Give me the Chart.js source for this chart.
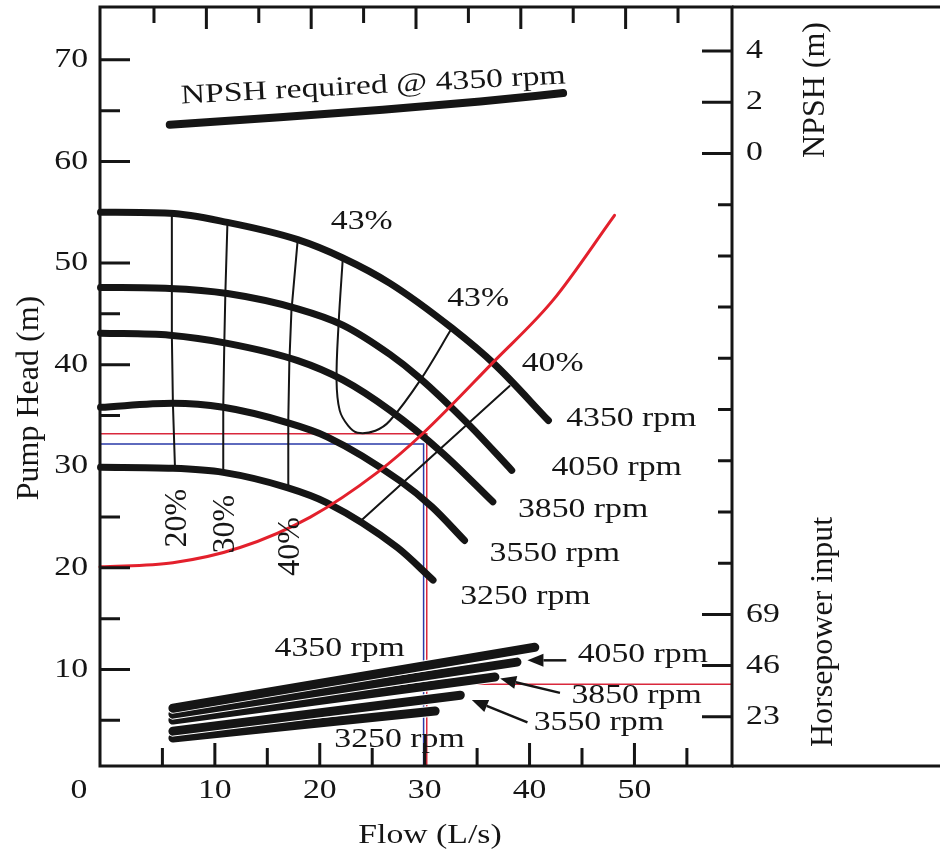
<!DOCTYPE html>
<html><head><meta charset="utf-8">
<script src="https://cdn.jsdelivr.net/npm/chart.js@4.4.0/dist/chart.umd.min.js"></script>
<style>html,body{margin:0;padding:0;background:#fff}#wrap{width:940px;height:857px}</style>
</head><body><div id="wrap"><canvas id="c" width="940" height="857"></canvas></div>
<script>
// ===== DATA =====
const RPM=['4350','4050','3850','3550','3250'];
// head curves (flow L/s, head m)
const Q_4350=[-0.9,5.7,11.2,17.9,22.2,26.7,32.6,36.7,41.8];
const H_4350=[55.0,54.9,54.0,52.3,50.5,48.0,43.6,40.0,34.5];
const Q_4050=[-0.9,5.7,11.2,17.9,22.2,26.7,29.4,34.3,38.3];
const H_4050=[47.6,47.5,47.0,45.5,43.9,41.0,38.8,34.0,29.6];
const Q_3850=[-0.9,5.7,11.2,17.9,22.2,26.7,31.7,36.5];
const H_3850=[43.1,42.9,42.1,40.4,38.5,35.5,31.3,26.5];
const Q_3550=[-0.9,6.0,10.8,16.9,20.7,27.6,30.7,33.8];
const H_3550=[35.8,36.2,35.8,34.3,32.9,28.6,26.0,22.7];
const Q_3250=[-0.9,6.0,10.8,16.9,20.7,27.4,30.8];
const H_3250=[29.9,29.8,29.4,27.9,26.4,22.0,18.8];
// efficiency contours
const E20_Q=[5.9,5.9,5.9,6.0,6.2], E20_H=[54.9,47.5,42.9,36.2,29.8];
const E30_Q=[11.2,11.0,10.9,10.8,10.8], E30_H=[54.0,47.0,42.1,35.8,29.4];
const E40_Q=[17.9,17.3,17.1,17.0,17.0], E40_H=[52.3,45.3,40.2,34.5,27.8];
const E43_Q=[22.2,21.8,21.6,21.9,22.7,23.6,25.3,26.7,29.6,32.6];
const E43_H=[50.5,44.1,38.5,35.5,34.0,33.3,33.5,34.5,38.5,43.6];
const E40R_Q=[38.1,24.0], E40R_H=[37.9,24.7];
// system curve
const SYS_Q=[-0.95,6.0,12.4,19.1,25.5,29.8,36.5,42.2,48.1];
const SYS_H=[20.1,20.5,22.0,25.0,29.4,33.2,40.2,46.3,54.7];
// NPSH required @ 4350 rpm (m)
const NPSH_Q=[5.7,16.2,26.0,35.3,43.2], NPSH_M=[1.11,1.40,1.70,2.02,2.35];
// horsepower input lines
const HP_Q=[[6.0,40.5],[6.0,38.8],[6.0,36.7],[6.0,33.4],[6.0,31.0]];
const HP_V=[[26.9,54.5],[24.2,47.8],[21.5,41.0],[16.5,32.8],[13.4,25.6]];
// operating point read-off lines
const OP_RED={q:30.2,h:33.2,hp:37.8}, OP_BLUE={q:29.9,h:32.2};
// ticks
const X_LABELS=[10,20,30,40,50], X_MINOR=[5,10,15,20,25,30,35,40,45,50,55];
const Y_LABELS=[10,20,30,40,50,60,70], Y_MINOR=[5,10,15,20,25,30,35,40,45,50,55,60,65,70];
const NPSH_TICKS=[0,2,4], HP_TICKS=[23,46,69];
const R_MINOR=[5,10,15,20,25,30,35,40,45,50,55,60,65,70], R_LONG=[5,10,15,60,65,70];

// ===== STYLE =====
const INK='#151515',RED='#e3202c',REF_RED='#d9283c',REF_BLUE='#2a3aa8';
const SERIF="'Liberation Serif','Times New Roman',serif";

const pts=(q,h)=>q.map((v,i)=>({x:v,y:h[i]}));
function ds(data,color,width,yAxis,extra){
  return Object.assign({data,borderColor:color,borderWidth:width,showLine:true,pointRadius:0,fill:false,
    tension:0,yAxisID:yAxis||'y',xAxisID:'x',borderCapStyle:'round',borderJoinStyle:'round',clip:false},extra||{});
}
const SMOOTH={cubicInterpolationMode:'monotone'};
const datasets=[];
// read-off lines (underneath)
datasets.push(ds([{x:-0.95,y:OP_RED.h},{x:OP_RED.q,y:OP_RED.h},{x:OP_RED.q,y:0.5}],REF_RED,1.5,'y',{borderCapStyle:'butt',borderJoinStyle:'miter'}));
datasets.push(ds([{x:-0.95,y:OP_BLUE.h},{x:OP_BLUE.q,y:OP_BLUE.h},{x:OP_BLUE.q,y:0.5}],REF_BLUE,1.5,'y',{borderCapStyle:'butt',borderJoinStyle:'miter'}));
datasets.push(ds([{x:OP_RED.q,y:OP_RED.hp},{x:59.3,y:OP_RED.hp}],REF_RED,1.5,'yH',{borderCapStyle:'butt'}));
// efficiency contours
[[E20_Q,E20_H],[E30_Q,E30_H],[E40_Q,E40_H],[E40R_Q,E40R_H]].forEach(([q,h])=>
  datasets.push(ds(pts(q,h),INK,2,'y')));
datasets.push(ds(pts(E43_Q,E43_H),INK,2,'y',{tension:0.35}));
// head curves
[[Q_4350,H_4350],[Q_4050,H_4050],[Q_3850,H_3850],[Q_3550,H_3550],[Q_3250,H_3250]].forEach(([q,h])=>
  datasets.push(ds(pts(q,h),INK,7,'y',SMOOTH)));
// horsepower lines, bottom first, white halo gives the thin separations
for(let i=HP_Q.length-1;i>=0;i--){
  datasets.push(ds(pts(HP_Q[i],HP_V[i]),'#fff',11,'yH'));
  datasets.push(ds(pts(HP_Q[i],HP_V[i]),INK,9,'yH'));
}
// NPSH
datasets.push(ds(pts(NPSH_Q,NPSH_M),INK,8,'yN',SMOOTH));
// system curve on top
datasets.push(ds(pts(SYS_Q,SYS_H),RED,3,'y',SMOOTH));
datasets.forEach((d,i)=>d.order=datasets.length-i);

// ===== TEXT / ANNOTATIONS =====
const LABELS=[
  {t:'NPSH required @ 4350 rpm',x:25.1,y:67.4,rot:-3},
  {t:'43%',x:24.0,y:54.0},{t:'43%',x:35.1,y:46.5},{t:'40%',x:42.2,y:40.1},
  {t:'4350 rpm',x:49.7,y:34.7},{t:'4050 rpm',x:48.3,y:29.8},{t:'3850 rpm',x:45.1,y:25.7},
  {t:'3550 rpm',x:42.4,y:21.4},{t:'3250 rpm',x:39.6,y:17.1},
  {t:'20%',x:6.4,y:24.9,rot:-90},{t:'30%',x:11.0,y:24.3,rot:-90},{t:'40%',x:17.2,y:22.1,rot:-90},
  {t:'4350 rpm',x:21.9,y:12.0},{t:'4050 rpm',x:50.8,y:11.4},{t:'3850 rpm',x:50.2,y:7.4},
  {t:'3550 rpm',x:46.6,y:4.7},{t:'3250 rpm',x:27.6,y:3.1}
];
const ARROWS=[
  {x1:43.5,y1:10.9,x2:39.8,y2:10.9},
  {x1:42.9,y1:7.7,x2:37.2,y2:9.1},
  {x1:39.8,y1:4.8,x2:34.5,y2:7.0}
];

function txt(ctx,s,px,py,o){
  o=o||{};
  ctx.save();
  ctx.translate(px,py);
  if(o.rot)ctx.rotate(o.rot*Math.PI/180);
  const vert=o.rot===-90;
  ctx.font=(vert?32:27)+'px '+SERIF;
  if(!vert)ctx.scale(1.25,1);
  ctx.fillStyle=INK;
  ctx.textAlign=o.align||'center';
  ctx.textBaseline='middle';
  ctx.fillText(s,0,0);
  ctx.restore();
}

const frame={id:'frame',afterDatasetsDraw(ch){
  const {ctx,chartArea:a,scales:s}=ch;
  ctx.save();
  ctx.strokeStyle=INK;ctx.lineWidth=3;ctx.lineCap='butt';
  ctx.strokeRect(a.left,a.top,a.right-a.left,a.bottom-a.top);
  ctx.beginPath();
  ctx.moveTo(a.right,a.top);ctx.lineTo(ch.width,a.top);
  ctx.moveTo(a.right,a.bottom);ctx.lineTo(ch.width,a.bottom);
  // ticks
  X_MINOR.forEach(v=>{
    const p=s.x.getPixelForValue(v),L=v%10===0?23:18;
    ctx.moveTo(p,a.bottom);ctx.lineTo(p,a.bottom-L);
    const t=s.xTop.getPixelForValue(v),T=v%10===0?22:16;
    ctx.moveTo(t,a.top);ctx.lineTo(t,a.top+T);
  });
  Y_MINOR.forEach(v=>{
    const p=s.y.getPixelForValue(v),L=v%10===0?30:20;
    ctx.moveTo(a.left,p);ctx.lineTo(a.left+L,p);
  });
  R_MINOR.forEach(v=>{
    const p=s.yR.getPixelForValue(v),L=R_LONG.includes(v)?30:14;
    ctx.moveTo(a.right,p);ctx.lineTo(a.right-L,p);
  });
  ctx.stroke();

  // tick labels
  X_LABELS.forEach(v=>txt(ctx,String(v),s.x.getPixelForValue(v),a.bottom+25));
  txt(ctx,'0',a.left-21,a.bottom+25);
  Y_LABELS.forEach(v=>txt(ctx,String(v),a.left-12,s.y.getPixelForValue(v),{align:'right'}));
  NPSH_TICKS.forEach(v=>txt(ctx,String(v),a.right+14,s.yN.getPixelForValue(v),{align:'left'}));
  HP_TICKS.forEach(v=>txt(ctx,String(v),a.right+14,s.yH.getPixelForValue(v),{align:'left'}));

  // axis titles
  txt(ctx,'Flow (L/s)',(a.left+a.right)/2+14,a.bottom+70);
  txt(ctx,'Pump Head (m)',30,398,{rot:-90});
  txt(ctx,'NPSH (m)',816,90,{rot:-90});
  txt(ctx,'Horsepower input',824,632,{rot:-90});

  // annotations
  LABELS.forEach(l=>txt(ctx,l.t,s.x.getPixelForValue(l.x),s.y.getPixelForValue(l.y),{rot:l.rot}));
  ctx.strokeStyle=INK;ctx.fillStyle=INK;ctx.lineWidth=2.5;
  ARROWS.forEach(r=>{
    const x1=s.x.getPixelForValue(r.x1),y1=s.y.getPixelForValue(r.y1);
    const x2=s.x.getPixelForValue(r.x2),y2=s.y.getPixelForValue(r.y2);
    const ang=Math.atan2(y2-y1,x2-x1),hl=16,hw=6.5;
    const bx=x2-hl*Math.cos(ang),by=y2-hl*Math.sin(ang);
    ctx.beginPath();ctx.moveTo(x1,y1);ctx.lineTo(bx,by);ctx.stroke();
    ctx.beginPath();ctx.moveTo(x2,y2);
    ctx.lineTo(bx+hw*Math.sin(ang),by-hw*Math.cos(ang));
    ctx.lineTo(bx-hw*Math.sin(ang),by+hw*Math.cos(ang));
    ctx.closePath();ctx.fill();
  });
  ctx.restore();
}};

new Chart(document.getElementById('c'),{
  type:'scatter',
  data:{datasets},
  options:{
    responsive:false,animation:false,devicePixelRatio:1,events:[],
    layout:{padding:{left:100,top:7,right:208,bottom:91}},
    plugins:{legend:{display:false},tooltip:{enabled:false}},
    scales:{
      x:{type:'linear',min:-0.95,max:59.3,display:false},
      xTop:{type:'linear',position:'top',min:-0.15,max:60.15,display:false},
      y:{type:'linear',min:0.5,max:75.2,display:false},
      yR:{type:'linear',position:'right',min:0.2,max:74.3,display:false},
      yN:{type:'linear',position:'right',min:-24.0,max:5.72,display:false},
      yH:{type:'linear',position:'right',min:0.7,max:344.7,display:false}
    }
  },
  plugins:[frame]
});
</script></body></html>
